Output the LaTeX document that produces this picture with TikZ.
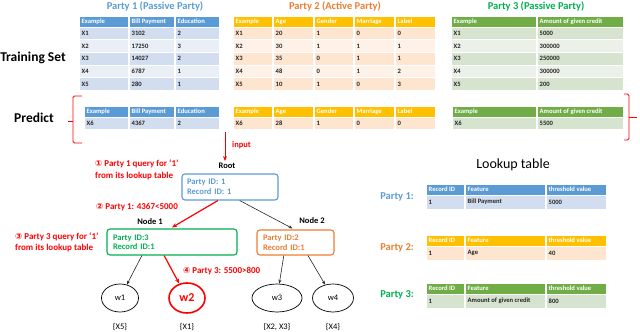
\documentclass[tikz,border=0pt]{standalone}
\usepackage{fontspec}
\setmainfont{Carlito}
\newfontfamily\dejavu{DejaVu Sans}
\usetikzlibrary{shapes.geometric,arrows.meta,calc}
\definecolor{blueH}{HTML}{5B9BD5}
\definecolor{blueA}{HTML}{D2DEEF}
\definecolor{blueB}{HTML}{EAEFF7}
\definecolor{oraH}{HTML}{FFC000}
\definecolor{oraA}{HTML}{FDE5D0}
\definecolor{oraB}{HTML}{FEF2E8}
\definecolor{greH}{HTML}{70AD47}
\definecolor{greA}{HTML}{D5E3CF}
\definecolor{greB}{HTML}{EBF1E9}
\definecolor{tblue}{HTML}{5B9BD5}
\definecolor{torange}{HTML}{ED7D31}
\definecolor{tgreen}{HTML}{00B050}
\definecolor{tred}{HTML}{FF0000}
\newcommand\cnum[1]{{\dejavu\fontsize{8.5}{10}\selectfont #1}}
\newcommand\trow[6]{%
  \foreach \xa/\xb/\txt in {#5}{%
    \fill[#3] (\xa+0.5,#1+0.5) rectangle (\xb-0.5,#1+#2-0.5);
    \node[cell,#4,name=#6c\xa] at (\xa+2.5,#1+#2/2) {\txt};
  }}
\tikzset{
  cell/.style={anchor=west,inner sep=0pt,font=\fontsize{6.6}{8}\bfseries\selectfont,text=black!85},
  hdr/.style={text=white},
  ptitle/.style={font=\fontsize{10.5}{12}\bfseries\selectfont},
  big/.style={font=\fontsize{13.5}{15}\bfseries\selectfont},
  redtxt/.style={anchor=west,align=left,text=tred,inner sep=0pt,font=\fontsize{9}{11.5}\bfseries\selectfont},
  treebox/.style={draw,rounded corners=3pt,line width=1.1pt,align=left,inner sep=0pt,
     font=\fontsize{8.5}{9.5}\bfseries\selectfont},
  nlabel/.style={font=\fontsize{8.5}{10}\bfseries\selectfont,inner sep=0pt},
  leaf/.style={draw,ellipse,inner sep=0pt,line width=0.7pt,font=\fontsize{8.5}{10}\selectfont},
  setlbl/.style={font=\fontsize{8.5}{10}\selectfont,inner sep=0pt},
  blk/.style={draw=black!85,line width=0.6pt,-{Stealth[length=4pt,width=3pt]}},
  redarr/.style={draw=tred,line width=1.2pt,-{Stealth[length=5pt,width=4pt]}},
  brack/.style={draw=tred,line width=0.9pt,rounded corners=1.5pt},
  lkp/.style={font=\fontsize{10.5}{12}\bfseries\selectfont,inner sep=0pt}
}
\begin{document}
\begin{tikzpicture}[x=1pt,y=-1pt]
\useasboundingbox (0,0) rectangle (640,332);
% titles
\node[ptitle,text=tblue] (t1) at (155,6) {Party 1 (Passive Party)};
\node[ptitle,text=torange] (t2) at (335,6) {Party 2 (Active Party)};
\node[ptitle,text=tgreen] (t3) at (536,6) {Party 3 (Passive Party)};
\node[big] (train) at (33,58) {Training Set};
\node[big] (pred) at (34,118) {Predict};
% Party 1 training
\trow{16}{11}{blueH}{hdr}{79/128/Example,129/174/Bill Payment,175/219/Education}{aa}
\trow{27}{12.7}{blueA}{}{79/128/X1,129/174/3102,175/219/2}{ab}
\trow{39.7}{12.7}{blueB}{}{79/128/X2,129/174/17250,175/219/3}{ac}
\trow{52.4}{12.7}{blueA}{}{79/128/X3,129/174/14027,175/219/2}{ad}
\trow{65.1}{12.7}{blueB}{}{79/128/X4,129/174/6787,175/219/1}{ae}
\trow{77.8}{12.7}{blueA}{}{79/128/X5,129/174/280,175/219/1}{af}
% Party 2 training
\trow{16}{11}{oraH}{hdr}{233/272/Example,273/313/Age,314/353/Gender,354/394/Marriage,395/435/Label}{ba}
\trow{27}{12.7}{oraA}{}{233/272/X1,273/313/20,314/353/1,354/394/0,395/435/0}{bb}
\trow{39.7}{12.7}{oraB}{}{233/272/X2,273/313/30,314/353/1,354/394/1,395/435/1}{bc}
\trow{52.4}{12.7}{oraA}{}{233/272/X3,273/313/35,314/353/0,354/394/1,395/435/1}{bd}
\trow{65.1}{12.7}{oraB}{}{233/272/X4,273/313/48,314/353/0,354/394/1,395/435/2}{be}
\trow{77.8}{12.7}{oraA}{}{233/272/X5,273/313/10,314/353/1,354/394/0,395/435/3}{bf}
% Party 3 training
\trow{16}{11}{greH}{hdr}{451/536/Example,537/623/Amount of given credit}{ca}
\trow{27}{12.7}{greA}{}{451/536/X1,537/623/5000}{cb}
\trow{39.7}{12.7}{greB}{}{451/536/X2,537/623/300000}{cc}
\trow{52.4}{12.7}{greA}{}{451/536/X3,537/623/250000}{cd}
\trow{65.1}{12.7}{greB}{}{451/536/X4,537/623/300000}{ce}
\trow{77.8}{12.7}{greA}{}{451/536/X5,537/623/200}{cf}
% Predict tables
\trow{106}{11}{blueH}{hdr}{84/128/Example,129/174/Bill Payment,175/219/Education}{da}
\trow{117}{12}{blueA}{}{84/128/X6,129/174/4367,175/219/2}{db}
\trow{106}{11}{oraH}{hdr}{233/272/Example,273/313/Age,314/353/Gender,354/394/Marriage,395/435/Label}{ea}
\trow{117}{12}{oraA}{}{233/272/X6,273/313/28,314/353/1,354/394/0,395/435/0}{eb}
\trow{106}{11}{greH}{hdr}{452/536/Example,537/623/Amount of given credit}{fa}
\trow{117}{12}{greA}{}{452/536/X6,537/623/5500}{fb}
% brackets
\draw[brack] (82,96) -- (73,96) -- (73,143) -- (82,143);
\draw[brack] (73,121) -- (68,121);
\draw[brack] (624,94) -- (629,94) -- (629,140) -- (624,140);
\draw[brack] (629,117) -- (637,117);
% input arrow
\coordinate (inp) at (225,132);
\node[nlabel] (rootlbl) at (227,166) {Root};
\draw[redarr,line width=1pt] (inp) -- ($(rootlbl.north)+(-2,-2)$);
\node[anchor=west,text=tred,inner sep=0pt,font=\fontsize{8.5}{10}\bfseries\selectfont] (input) at (232,145) {input};
% tree boxes
\node[treebox,draw=tblue,text=tblue,text width=86pt,minimum height=26pt,inner xsep=5pt] (root) at (230,187) {Party ID: 1\\Record ID: 1};
\node[treebox,draw=tgreen,text=tgreen,text width=118pt,minimum height=26pt,inner xsep=6pt] (node1) at (172,242) {Party ID:3\\Record ID:1};
\node[treebox,draw=torange,text=torange,text width=65pt,minimum height=25pt,inner xsep=6pt] (node2) at (295.5,242.5) {Party ID:2\\Record ID:1};
\node[nlabel] (n1lbl) at (150,222) {Node 1};
\node[nlabel] (n2lbl) at (312,221) {Node 2};
% leaves
\node[leaf,minimum width=37pt,minimum height=28pt] (w1) at (120,298) {w1};
\node[leaf,draw=tred,text=tred,line width=1.6pt,minimum width=36pt,minimum height=30pt,font=\fontsize{12}{14}\bfseries\selectfont] (w2) at (187,298) {w2};
\node[leaf,minimum width=50pt,minimum height=28pt] (w3) at (277,298) {w3};
\node[leaf,minimum width=41pt,minimum height=28pt] (w4) at (333,298) {w4};
\node[setlbl] (s1) at (120,327) {\{X5\}};
\node[setlbl] (s2) at (187,327) {\{X1\}};
\node[setlbl] (s3) at (277,327) {\{X2, X3\}};
\node[setlbl] (s4) at (333,327) {\{X4\}};
% edges
\draw[redarr] ($(root.south west)!0.375!(root.south east)$) -- ($(node1.north)+(0,-1)$);
\draw[blk] ($(root.south west)!0.6!(root.south east)$) -- ($(node2.north)+(-3,-1)$);
\draw[blk] ($(node1.south west)!0.27!(node1.south east)$) -- (w1);
\draw[redarr] ($(node1.south west)!0.44!(node1.south east)$) -- (w2);
\draw[blk] ($(node2.south west)!0.35!(node2.south east)$) -- (w3);
\draw[blk] ($(node2.south west)!0.66!(node2.south east)$) -- (w4);
% red annotations
\node[redtxt] (a1) at (95,170) {\cnum{①} Party 1 query for ‘1’\\from its lookup table};
\node[redtxt] (a2) at (96,207) {\cnum{②} Party 1: 4367<5000};
\node[redtxt] (a3) at (15,242.5) {\cnum{③} Party 3 query for ‘1’\\from its lookup table};
\node[redtxt] (a4) at (183,271) {\cnum{④} Party 3: 5500>800};
% lookup table
\node[font=\fontsize{14}{16}\selectfont,inner sep=0pt] (lkt) at (513,165) {Lookup table};
\node[lkp,text=tblue] (lp1) at (397,197) {Party 1:};
\node[lkp,text=torange] (lp2) at (397,248) {Party 2:};
\node[lkp,text=tgreen] (lp3) at (397,295) {Party 3:};
\trow{184}{11}{blueH}{hdr}{426/464/Record ID,465/545/Feature,546/606/threshold value}{ga}
\trow{195}{14}{blueA}{}{426/464/1,465/545/Bill Payment,546/606/5000}{gb}
\trow{235}{11}{oraH}{hdr}{426/464/Record ID,465/545/Feature,546/606/threshold value}{ha}
\trow{246}{14}{oraA}{}{426/464/1,465/545/Age,546/606/40}{hb}
\trow{283}{11}{greH}{hdr}{426/464/Record ID,465/545/Feature,546/606/threshold value}{ia}
\trow{294}{14}{greA}{}{426/464/1,465/545/Amount of given credit,546/606/800}{ib}
\end{tikzpicture}
\end{document}
